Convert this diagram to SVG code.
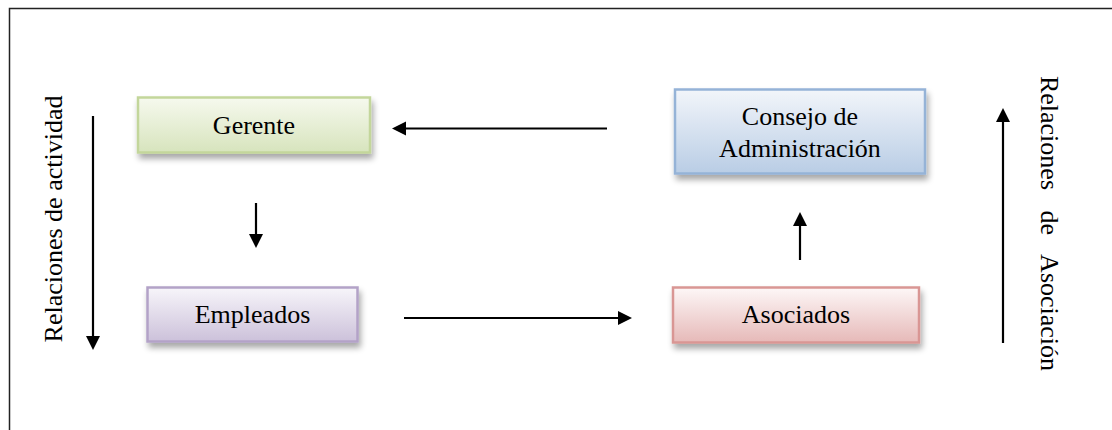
<svg xmlns="http://www.w3.org/2000/svg" width="1112" height="430" viewBox="0 0 1112 430">
<style>
  .lbl { font-family: "Liberation Serif", "Times New Roman", serif; font-size: 26px; fill: #000; }
  .box { stroke-width: 2.5; }
  .conn { stroke: #000; stroke-width: 2.2; fill: none; marker-end: url(#arrow); }
</style>
<defs>
  <marker id="arrow" markerUnits="userSpaceOnUse" markerWidth="16" markerHeight="16" refX="6" refY="7" orient="auto">
    <path d="M0,0 L14,7 L0,14 Z" fill="#000"/>
  </marker>
  <filter id="sh" x="-10%" y="-20%" width="130%" height="160%">
    <feGaussianBlur in="SourceAlpha" stdDeviation="3"/>
    <feOffset dx="2" dy="5" result="b"/>
    <feComponentTransfer><feFuncA type="linear" slope="0.35"/></feComponentTransfer>
    <feMerge><feMergeNode/><feMergeNode in="SourceGraphic"/></feMerge>
  </filter>
  <linearGradient id="gG" x1="0" y1="0" x2="0" y2="1"><stop offset="0" stop-color="#f6f9ee"/><stop offset="1" stop-color="#d7e4bd"/></linearGradient>
  <linearGradient id="gC" x1="0" y1="0" x2="0" y2="1"><stop offset="0" stop-color="#f2f5fa"/><stop offset="1" stop-color="#b9cde5"/></linearGradient>
  <linearGradient id="gE" x1="0" y1="0" x2="0" y2="1"><stop offset="0" stop-color="#f7f5fa"/><stop offset="1" stop-color="#ccc1da"/></linearGradient>
  <linearGradient id="gA" x1="0" y1="0" x2="0" y2="1"><stop offset="0" stop-color="#fdf7f7"/><stop offset="1" stop-color="#e6b9b8"/></linearGradient>
</defs>
<rect width="1112" height="430" fill="#fff"/>
<g id="frame">
  <path d="M9.5,440 L9.5,8.5 L1120,8.5" fill="none" stroke="#222" stroke-width="1.5"/>
</g>
<g id="gerente">
  <rect class="box" x="138" y="97.5" width="232" height="55" fill="url(#gG)" stroke="#c3d69b" filter="url(#sh)"/>
  <text class="lbl" x="254" y="134" text-anchor="middle">Gerente</text>
</g>
<g id="consejo">
  <rect class="box" x="675" y="89.5" width="250" height="84" fill="url(#gC)" stroke="#95b3d7" filter="url(#sh)"/>
  <text class="lbl" x="800" y="125" text-anchor="middle">Consejo de</text>
  <text class="lbl" x="800" y="157" text-anchor="middle">Administración</text>
</g>
<g id="empleados">
  <rect class="box" x="147.5" y="287.5" width="210" height="54" fill="url(#gE)" stroke="#b3a2c7" filter="url(#sh)"/>
  <text class="lbl" x="252.5" y="323" text-anchor="middle">Empleados</text>
</g>
<g id="asociados">
  <rect class="box" x="673" y="287.5" width="246" height="55" fill="url(#gA)" stroke="#d99694" filter="url(#sh)"/>
  <text class="lbl" x="796" y="323" text-anchor="middle">Asociados</text>
</g>
<g id="side-labels">
  <text class="lbl" transform="translate(62,219) rotate(-90)" text-anchor="middle">Relaciones de actividad</text>
  <text class="lbl" transform="translate(1041,223.5) rotate(90)" text-anchor="middle" word-spacing="14">Relaciones de Asociación</text>
</g>
<g id="connectors">
  <line class="conn" x1="607" y1="128.5" x2="400" y2="128.5"/>
  <line class="conn" x1="256" y1="203" x2="256" y2="240"/>
  <line class="conn" x1="404" y1="318" x2="624" y2="318"/>
  <line class="conn" x1="800" y1="260" x2="800" y2="220"/>
  <line class="conn" x1="93" y1="116" x2="93" y2="342"/>
  <line class="conn" x1="1003" y1="343" x2="1003" y2="116"/>
</g>
</svg>
